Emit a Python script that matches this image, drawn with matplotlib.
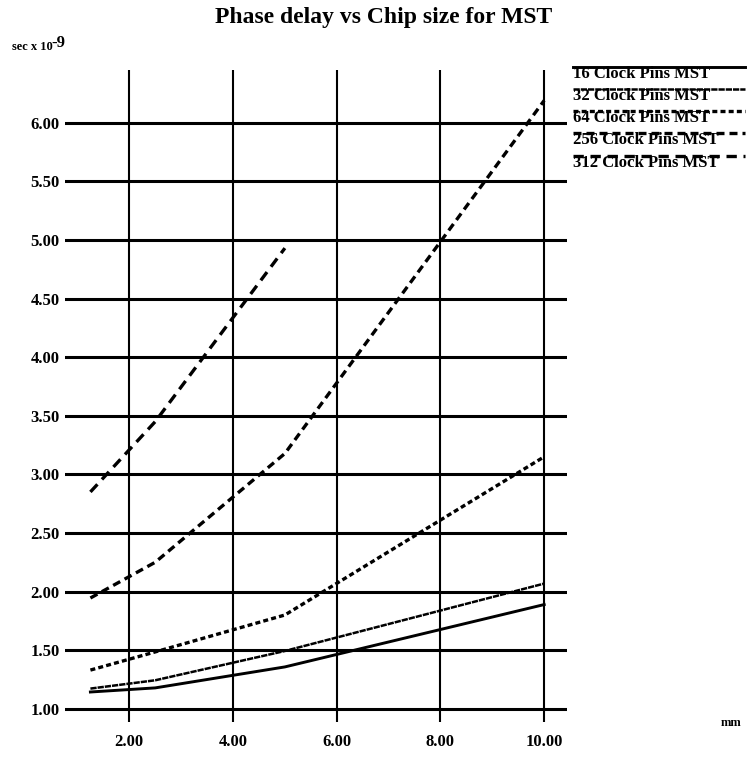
import matplotlib.pyplot as plt
from matplotlib.lines import Line2D

plt.rcParams['font.family'] = ['Liberation Serif', 'DejaVu Serif']
plt.rcParams['font.weight'] = 'bold'

# chip size (mm) and phase delay (sec x 1e-9)
chip_mm = [1.25, 2.5, 5.0, 10.0]
delay_16 = [1.143, 1.178, 1.357, 1.889]
delay_32 = [1.172, 1.243, 1.493, 2.068]
delay_64 = [1.33, 1.485, 1.80, 3.15]
delay_256 = [1.945, 2.25, 3.178, 6.19]
chip_mm_312 = [1.25, 2.5, 5.0]
delay_312 = [2.85, 3.45, 4.93]

series_labels = ["16 Clock Pins MST", "32 Clock Pins MST", "64 Clock Pins MST",
                 "256 Clock Pins MST", "312 Clock Pins MST"]
x_ticks = [2.0, 4.0, 6.0, 8.0, 10.0]
y_ticks = [1.0, 1.5, 2.0, 2.5, 3.0, 3.5, 4.0, 4.5, 5.0, 5.5, 6.0]

W, H = 748, 758
fig = plt.figure(figsize=(W / 100, H / 100), dpi=100)
ax = fig.add_axes([65 / W, 1 - 722 / H, (567 - 65) / W, (722 - 70) / H])

styles = [
    dict(lw=2.1, ls='-'),
    dict(lw=1.8, ls=(0, (2.5, 0.4))),
    dict(lw=2.4, ls=(0, (1.5, 0.95))),
    dict(lw=2.4, ls=(0, (2.4, 1.5))),
    dict(lw=2.4, ls=(0, (3.1, 2.0))),
]
xs = [chip_mm, chip_mm, chip_mm, chip_mm, chip_mm_312]
ys = [delay_16, delay_32, delay_64, delay_256, delay_312]
for x, y, st in zip(xs, ys, styles):
    ax.plot(x, y, color='black', **st)

ax.set_xlim(0.76, 10.44)
ax.set_ylim(0.887, 6.45)
ax.set_xticks(x_ticks)
ax.set_yticks(y_ticks)
ax.set_xticklabels([f"{v:.2f}" for v in x_ticks], fontsize=12, fontweight='bold')
ax.set_yticklabels([f"{v:.2f}" for v in y_ticks], fontsize=12, fontweight='bold')
ax.tick_params(length=0)
ax.tick_params(axis='x', pad=9)
ax.tick_params(axis='y', pad=4)
ax.set_axisbelow(True)
ax.grid(axis='y', color='black', lw=2.2)
ax.grid(axis='x', color='black', lw=1.5)
for s in ax.spines.values():
    s.set_visible(False)

fig.text(384 / W, 1 - 18 / H, "Phase delay vs Chip size for MST",
         ha='center', va='center', fontsize=17, fontweight='bold')
fig.text(12 / W, 1 - 47 / H, "sec x 10", ha='left', va='center',
         fontsize=9, fontweight='bold')
fig.text(51 / W, 1 - 43 / H, "-9", ha='left', va='center',
         fontsize=12, fontweight='bold')
fig.text(731 / W, 1 - 723 / H, "mm", ha='center', va='center',
         fontsize=9, fontweight='bold')

# hand-drawn legend: line sample runs over the top of each label
leg_y = [74, 96, 118, 140, 163]
for lab, yy, st in zip(series_labels, leg_y, styles):
    fig.text(573 / W, 1 - yy / H, lab, ha='left', va='center',
             fontsize=12, fontweight='bold')
    fig.add_artist(Line2D([573 / W, 745 / W], [1 - (yy - 7) / H] * 2,
                          transform=fig.transFigure, color='black', **st))

fig.savefig("out.png", dpi=100)
